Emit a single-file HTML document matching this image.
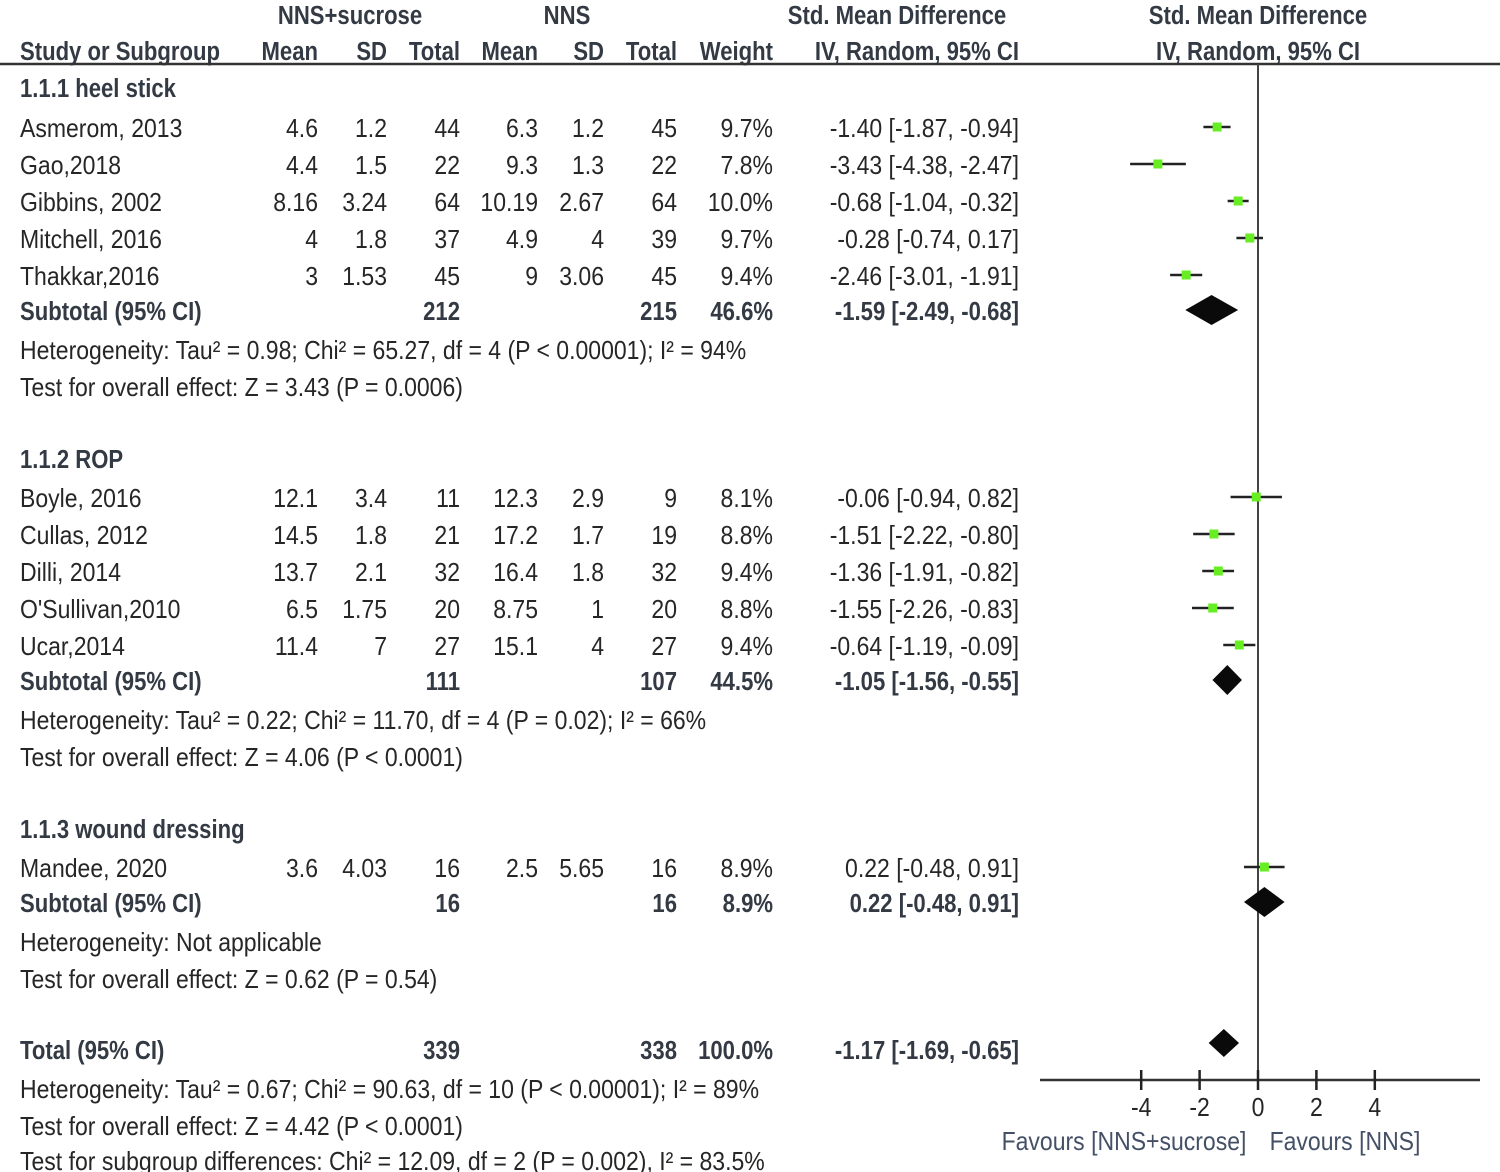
<!DOCTYPE html>
<html><head><meta charset="utf-8"><style>
html,body{margin:0;padding:0;background:#fff;width:1500px;height:1172px;overflow:hidden}
svg{display:block}
text{font-family:"Liberation Sans",sans-serif;font-size:26px;fill:#262626}
.b{font-weight:bold;fill:#333a44}
.f{fill:#445066}
</style></head><body>
<svg id="s" width="1500" height="1172" xmlns="http://www.w3.org/2000/svg"></svg>
<script>
const s=document.getElementById('s');const NS='http://www.w3.org/2000/svg';
function T(x,y,str,anchor,cls){
 const sx=(cls==='b')?0.85:0.885;
 const g=document.createElementNS(NS,'g');g.setAttribute('transform',`translate(${x},${y}) scale(${sx},1)`);
 const t=document.createElementNS(NS,'text');t.textContent=str;t.setAttribute('text-anchor',anchor||'start');
 if(cls)t.setAttribute('class',cls);g.appendChild(t);s.appendChild(g);}
function E(tag,a){const e=document.createElementNS(NS,tag);for(const k in a)e.setAttribute(k,a[k]);s.appendChild(e);return e;}
const X=v=>1258+29.2*v;
T(350,24,'NNS+sucrose','middle','b');T(567,24,'NNS','middle','b');
T(897,24,'Std. Mean Difference','middle','b');T(1258,24,'Std. Mean Difference','middle','b');
T(20,60,'Study or Subgroup','start','b');T(318,60,'Mean','end','b');T(387,60,'SD','end','b');T(460,60,'Total','end','b');
T(538,60,'Mean','end','b');T(604,60,'SD','end','b');T(677,60,'Total','end','b');T(773,60,'Weight','end','b');
T(1019,60,'IV, Random, 95% CI','end','b');T(1258,60,'IV, Random, 95% CI','middle','b');
E('line',{x1:0,y1:64,x2:1500,y2:64,stroke:'#333',"stroke-width":2.5});
E('line',{x1:1258,y1:64,x2:1258,y2:1080,stroke:'#444',"stroke-width":2});
const cols=[318,387,460,538,604,677,773,1019];
function row(y,name,vals,bold){
 T(20,y,name,'start',bold?'b':null);
 vals.forEach((v,i)=>{if(v!=='')T(cols[i],y,v,'end',bold?'b':null)});
}
function study(y,name,vals,est,lo,hi){
 row(y,name,vals);
 const cy=y-10;
 E('line',{x1:X(lo),y1:cy,x2:X(hi),y2:cy,stroke:'#222',"stroke-width":2.5});
 E('rect',{x:X(est)-4.5,y:cy-4.5,width:9,height:9,fill:'#66ee22'});
}
function dia(y,est,lo,hi,h){const cy=y-10;
 E('polygon',{points:`${X(lo)},${cy} ${X(est)},${cy-h} ${X(hi)},${cy} ${X(est)},${cy+h}`,fill:'#0a0a0a'});}
T(20,97,'1.1.1 heel stick','start','b');
study(137,'Asmerom, 2013',['4.6','1.2','44','6.3','1.2','45','9.7%','-1.40 [-1.87, -0.94]'],-1.40,-1.87,-0.94);
study(174,'Gao,2018',['4.4','1.5','22','9.3','1.3','22','7.8%','-3.43 [-4.38, -2.47]'],-3.43,-4.38,-2.47);
study(211,'Gibbins, 2002',['8.16','3.24','64','10.19','2.67','64','10.0%','-0.68 [-1.04, -0.32]'],-0.68,-1.04,-0.32);
study(248,'Mitchell, 2016',['4','1.8','37','4.9','4','39','9.7%','-0.28 [-0.74, 0.17]'],-0.28,-0.74,0.17);
study(285,'Thakkar,2016',['3','1.53','45','9','3.06','45','9.4%','-2.46 [-3.01, -1.91]'],-2.46,-3.01,-1.91);
row(320,'Subtotal (95% CI)',['','','212','','','215','46.6%','-1.59 [-2.49, -0.68]'],true);
dia(320,-1.59,-2.49,-0.68,15);
T(20,359,'Heterogeneity: Tau² = 0.98; Chi² = 65.27, df = 4 (P < 0.00001); I² = 94%');
T(20,396,'Test for overall effect: Z = 3.43 (P = 0.0006)');
T(20,468,'1.1.2 ROP','start','b');
study(507,'Boyle, 2016',['12.1','3.4','11','12.3','2.9','9','8.1%','-0.06 [-0.94, 0.82]'],-0.06,-0.94,0.82);
study(544,'Cullas, 2012',['14.5','1.8','21','17.2','1.7','19','8.8%','-1.51 [-2.22, -0.80]'],-1.51,-2.22,-0.80);
study(581,'Dilli, 2014',['13.7','2.1','32','16.4','1.8','32','9.4%','-1.36 [-1.91, -0.82]'],-1.36,-1.91,-0.82);
study(618,"O'Sullivan,2010",['6.5','1.75','20','8.75','1','20','8.8%','-1.55 [-2.26, -0.83]'],-1.55,-2.26,-0.83);
study(655,'Ucar,2014',['11.4','7','27','15.1','4','27','9.4%','-0.64 [-1.19, -0.09]'],-0.64,-1.19,-0.09);
row(690,'Subtotal (95% CI)',['','','111','','','107','44.5%','-1.05 [-1.56, -0.55]'],true);
dia(690,-1.05,-1.56,-0.55,15);
T(20,729,'Heterogeneity: Tau² = 0.22; Chi² = 11.70, df = 4 (P = 0.02); I² = 66%');
T(20,766,'Test for overall effect: Z = 4.06 (P < 0.0001)');
T(20,838,'1.1.3 wound dressing','start','b');
study(877,'Mandee, 2020',['3.6','4.03','16','2.5','5.65','16','8.9%','0.22 [-0.48, 0.91]'],0.22,-0.48,0.91);
row(912,'Subtotal (95% CI)',['','','16','','','16','8.9%','0.22 [-0.48, 0.91]'],true);
dia(912,0.22,-0.48,0.91,15);
T(20,951,'Heterogeneity: Not applicable');
T(20,988,'Test for overall effect: Z = 0.62 (P = 0.54)');
row(1059,'Total (95% CI)',['','','339','','','338','100.0%','-1.17 [-1.69, -0.65]'],true);
dia(1053,-1.17,-1.69,-0.65,14);
T(20,1098,'Heterogeneity: Tau² = 0.67; Chi² = 90.63, df = 10 (P < 0.00001); I² = 89%');
T(20,1135,'Test for overall effect: Z = 4.42 (P < 0.0001)');
T(20,1170,'Test for subgroup differences: Chi² = 12.09, df = 2 (P = 0.002), I² = 83.5%');
E('line',{x1:1040,y1:1080,x2:1480,y2:1080,stroke:'#333',"stroke-width":2.5});
[-4,-2,0,2,4].forEach(v=>{E('line',{x1:X(v),y1:1070,x2:X(v),y2:1090,stroke:'#222',"stroke-width":2.5});
 T(X(v),1116,String(v),'middle');});
T(1124,1150,'Favours [NNS+sucrose]','middle','f');T(1345,1150,'Favours [NNS]','middle','f');
</script>
</body></html>
